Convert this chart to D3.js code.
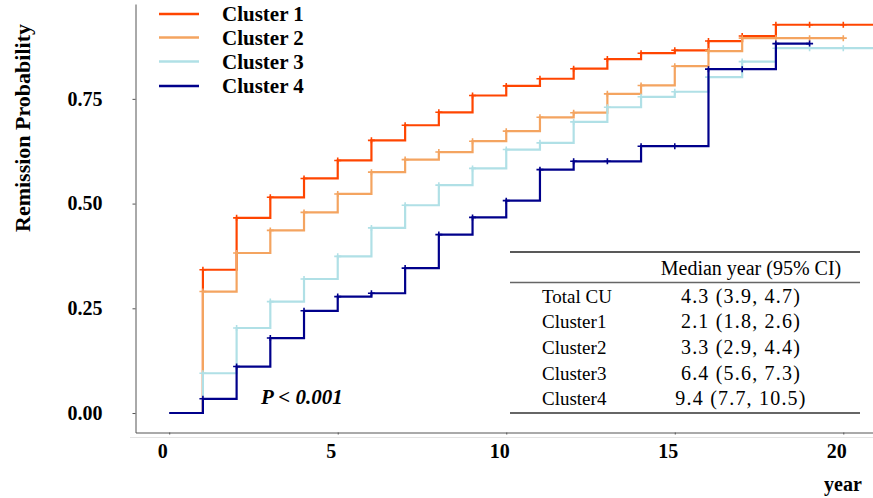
<!DOCTYPE html>
<html>
<head>
<meta charset="utf-8">
<script src="https://cdn.jsdelivr.net/npm/d3@7"></script>
<style>
  body { margin: 0; background: #ffffff; }
  text { font-family: "Liberation Serif", "Times New Roman", serif; }
</style>
</head>
<body>
<div id="chart"></div>
<script>
// remission curves, one value per year (0..20)
var years = [0, 1, 2, 3, 4, 5, 6, 7, 8, 9, 10, 11, 12, 13, 14, 15, 16, 17, 18, 19, 20];
var cluster1 = [0, 0.342, 0.466, 0.515, 0.560, 0.603, 0.651, 0.687, 0.718, 0.758, 0.781, 0.798, 0.822, 0.845, 0.859, 0.866, 0.888, 0.900, 0.927, 0.927, 0.927];
var cluster2 = [0, 0.290, 0.382, 0.436, 0.479, 0.523, 0.575, 0.605, 0.623, 0.649, 0.673, 0.706, 0.717, 0.762, 0.782, 0.828, 0.864, 0.895, 0.895, 0.895, 0.895];
var cluster3 = [0, 0.095, 0.203, 0.266, 0.320, 0.374, 0.442, 0.496, 0.544, 0.584, 0.629, 0.645, 0.695, 0.730, 0.755, 0.767, 0.802, 0.839, 0.871, 0.871, 0.871];
var cluster4 = [0, 0.034, 0.111, 0.179, 0.244, 0.278, 0.286, 0.346, 0.426, 0.467, 0.507, 0.581, 0.601, 0.601, 0.637, 0.637, 0.821, 0.821, 0.882, 0.882];
var lastYear = [21, 20, 21, 19];
var seriesNames = ["Cluster 1", "Cluster 2", "Cluster 3", "Cluster 4"];
var colors = ["#ff4500", "#f4a460", "#b0e0e6", "#00008b"];

var xTicks = [0, 5, 10, 15, 20];
var yTicks = [0, 0.25, 0.5, 0.75];

var tableHeader = "Median year (95% CI)";
var tableRows = ["Total CU", "Cluster1", "Cluster2", "Cluster3", "Cluster4"];
var tableValues = ["4.3 (3.9, 4.7)", "2.1 (1.8, 2.6)", "3.3 (2.9, 4.4)", "6.4 (5.6, 7.3)", "9.4 (7.7, 10.5)"];

var allSeries = [cluster1, cluster2, cluster3, cluster4];

var width = 873,
    height = 498;

var svg = d3.select("#chart").append("svg")
  .attr("width", width)
  .attr("height", height);

var x = d3.scaleLinear()
  .domain([-1, 21])
  .range([135.5, 877]);

var y = d3.scaleLinear()
  .domain([-0.0465, 0.9765])
  .range([432.5, 4]);

// faint seam under the axis, as in the source image
svg.append("line")
  .attr("x1", 130).attr("x2", width)
  .attr("y1", 437.5).attr("y2", 437.5)
  .attr("stroke", "#e4e4e4")
  .attr("stroke-width", 1);

svg.append("clipPath").attr("id", "plotclip")
  .append("rect")
  .attr("x", x.range()[0]).attr("y", y.range()[1])
  .attr("width", x.range()[1] - x.range()[0])
  .attr("height", y.range()[0] - y.range()[1]);

// axes
var xAxis = d3.axisBottom(x)
  .tickValues(xTicks)
  .tickSize(2)
  .tickSizeOuter(0)
  .tickPadding(9);

var gx = svg.append("g")
  .attr("transform", "translate(0," + y.range()[0] + ")")
  .call(xAxis);
gx.select(".domain").attr("stroke", "#555");
gx.selectAll(".tick line").attr("stroke", "#555");
gx.selectAll("text")
  .attr("dx", -7)
  .attr("fill", "#000")
  .style("font-size", "20px")
  .style("font-weight", "bold");

var yAxis = d3.axisLeft(y)
  .tickValues(yTicks)
  .tickFormat(d3.format(".2f"))
  .tickSize(3)
  .tickSizeOuter(0)
  .tickPadding(30);

var gy = svg.append("g")
  .attr("transform", "translate(" + x.range()[0] + ",0)")
  .call(yAxis);
gy.select(".domain").attr("stroke", "#555");
gy.selectAll(".tick line").attr("stroke", "#555");
gy.selectAll("text")
  .attr("fill", "#000")
  .style("font-size", "20px")
  .style("font-weight", "bold");

svg.append("text")
  .attr("transform", "translate(30,128) rotate(-90)")
  .attr("text-anchor", "middle")
  .style("font-size", "22px")
  .style("font-weight", "bold")
  .text("Remission Probability");

svg.append("text")
  .attr("x", 843)
  .attr("y", 491)
  .attr("text-anchor", "middle")
  .style("font-size", "20px")
  .style("font-weight", "bold")
  .text("year");

// step curves
var line = d3.line()
  .x(function(d) { return x(d.t); })
  .y(function(d) { return y(d.v); })
  .curve(d3.curveStepAfter);

var curves = svg.append("g").attr("clip-path", "url(#plotclip)");

allSeries.forEach(function(vals, k) {
  var pts = vals.map(function(v, i) { return { t: years[i], v: v }; });
  pts.push({ t: lastYear[k], v: vals[vals.length - 1] });

  curves.append("path")
    .datum(pts)
    .attr("d", line)
    .attr("fill", "none")
    .attr("stroke", colors[k])
    .attr("stroke-width", 2.2);

  // censor marks
  curves.selectAll(".mark" + k)
    .data(pts.slice(1, vals.length))
    .enter().append("path")
    .attr("class", "mark" + k)
    .attr("d", "M-3.5,0H3.5M0,-3V3")
    .attr("transform", function(d) { return "translate(" + x(d.t) + "," + y(d.v) + ")"; })
    .attr("stroke", colors[k])
    .attr("stroke-width", 1.6);
});

// legend
var legend = svg.selectAll(".legend")
  .data(seriesNames)
  .enter().append("g")
  .attr("class", "legend")
  .attr("transform", function(d, i) { return "translate(0," + [14, 37.5, 61.5, 86][i] + ")"; });

legend.append("line")
  .attr("x1", 159).attr("x2", 199)
  .attr("stroke", function(d, i) { return colors[i]; })
  .attr("stroke-width", 2.6);

legend.append("text")
  .attr("x", 222)
  .attr("dy", "0.34em")
  .style("font-size", "21px")
  .style("font-weight", "bold")
  .text(function(d) { return d; });

// p value
svg.append("text")
  .attr("x", 261)
  .attr("y", 403.5)
  .style("font-size", "21px")
  .style("font-weight", "bold")
  .style("font-style", "italic")
  .text("P < 0.001");

// median table
var table = svg.append("g");
[[252, "#222"], [282.5, "#666"], [413, "#333"]].forEach(function(l) {
  table.append("line")
    .attr("x1", 510).attr("x2", 860)
    .attr("y1", l[0]).attr("y2", l[0])
    .attr("stroke", l[1])
    .attr("stroke-width", 1.5);
});

table.append("text")
  .attr("x", 751)
  .attr("y", 275)
  .attr("text-anchor", "middle")
  .style("font-size", "20px")
  .text(tableHeader);

table.selectAll(".rowname")
  .data(tableRows)
  .enter().append("text")
  .attr("class", "rowname")
  .attr("x", 542)
  .attr("y", function(d, i) { return 302.7 + i * 25.65; })
  .style("font-size", "19px")
  .text(function(d) { return d; });

table.selectAll(".rowval")
  .data(tableValues)
  .enter().append("text")
  .attr("class", "rowval")
  .attr("x", 741)
  .attr("y", function(d, i) { return 302.7 + i * 25.65; })
  .attr("text-anchor", "middle")
  .style("font-size", "20px")
  .style("letter-spacing", "1.2px")
  .text(function(d) { return d; });
</script>
</body>
</html>
